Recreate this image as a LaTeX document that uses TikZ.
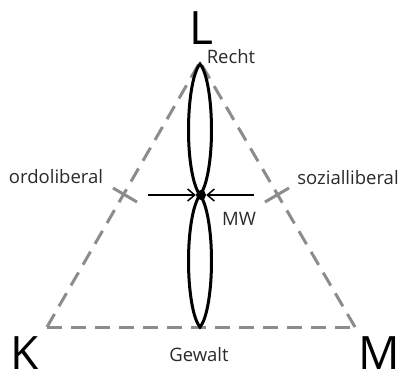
\documentclass[tikz,border=0pt]{standalone}
\usepackage{fontspec}
\setmainfont{Open Sans}
\usetikzlibrary{arrows.meta}
\definecolor{dashgray}{HTML}{8C8C8C}
\definecolor{txtgray}{HTML}{2A2A2A}
\tikzset{
  side/.style={draw=dashgray, line width=3pt, dash pattern=on 15pt off 9pt},
  tickmark/.style={draw=dashgray, line width=3pt},
  lobe/.style={draw=black, line width=3pt},
  push/.style={draw=black, line width=1.5pt, -{Straight Barb[length=7pt,width=12pt,line width=1.5pt]}},
  lab/.style={text=txtgray, font=\fontsize{18.5}{22}\selectfont, inner sep=0pt},
  corner/.style={text=black, font=\fontsize{46}{54}\selectfont, inner sep=0pt}
}
\begin{document}
\begin{tikzpicture}[x=1pt,y=-1pt]
\useasboundingbox (0,0) rectangle (406,376);
\fill[white] (0,0) rectangle (406,376);
% vertices
\coordinate (top) at (200,62);
\coordinate (left) at (47,327);
\coordinate (right) at (355,327);
% triangle sides
\draw[side] (left) -- (right);
\draw[side] (left) -- (top);
\draw[side] (right) -- (top);
% ticks
\coordinate (tl1) at (113,188);
\coordinate (tl2) at (137,202);
\coordinate (tr1) at (265,202);
\coordinate (tr2) at (289,188);
\draw[tickmark] (tl1) -- (tl2);
\draw[tickmark] (tr1) -- (tr2);
% lens
\coordinate (ltop) at (200,64);
\coordinate (lmid) at (200,195);
\coordinate (lbot) at (200,327);
\draw[lobe] (ltop) .. controls (207,72) and (211.5,100) .. (211.5,130)
  .. controls (211.5,160) and (207,186) .. (lmid)
  .. controls (193,186) and (188.5,160) .. (188.5,130)
  .. controls (188.5,100) and (193,72) .. (ltop) -- cycle;
\draw[lobe] (lmid) .. controls (207,204) and (211.5,231) .. (211.5,261)
  .. controls (211.5,291) and (207,319) .. (lbot)
  .. controls (193,319) and (188.5,291) .. (188.5,261)
  .. controls (188.5,231) and (193,204) .. (lmid) -- cycle;
\node[circle, fill=black, minimum size=10pt, inner sep=0pt] (dot) at (201,195) {};
% arrows
\coordinate (al) at (148,195);
\coordinate (ar) at (254,195);
\draw[push] (al) -- (dot.west);
\draw[push] (ar) -- (dot.east);
% labels
\node[corner] (L) at (201,28) {L};
\node[corner] (K) at (25,353) {K};
\node[corner] (M) at (379,353) {M};
\node[lab] (recht) at (231,57) {Recht};
\node[lab] (gewalt) at (199,355) {Gewalt};
\node[lab] (ordo) at (56,177) {ordoliberal};
\node[lab] (sozial) at (348,178) {sozialliberal};
\node[lab] (mw) at (239,219) {MW};
\end{tikzpicture}
\end{document}
